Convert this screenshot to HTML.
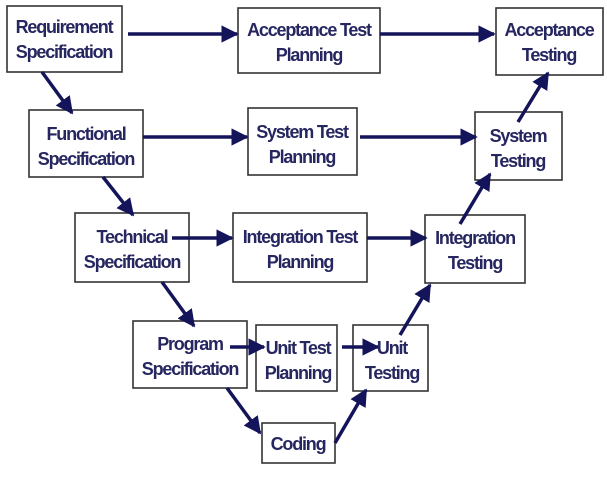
<!DOCTYPE html>
<html><head><style>
html,body{margin:0;padding:0;background:#fff;}
svg text{font-family:"Liberation Sans",Arial,sans-serif;font-size:18px;fill:#262660;font-weight:bold;letter-spacing:-1.2px;}
</style></head><body>
<svg width="607" height="474" viewBox="0 0 607 474" xmlns="http://www.w3.org/2000/svg">
<defs>
<marker id="a" viewBox="0 0 10 10" refX="9" refY="5" markerWidth="5" markerHeight="5" orient="auto" markerUnits="strokeWidth">
<path d="M0,0 L10,5 L0,10 z" fill="#14145a"/>
</marker>
</defs>
<g fill="#fff" stroke="#333" stroke-width="1.6">
<rect x="7" y="6" width="115" height="66"/>
<rect x="238" y="8" width="142" height="65"/>
<rect x="496" y="8" width="107" height="67"/>
<rect x="29" y="110" width="114" height="67"/>
<rect x="248" y="108" width="109" height="67"/>
<rect x="475" y="112" width="87" height="68"/>
<rect x="75" y="213" width="114" height="69"/>
<rect x="233" y="213" width="134" height="69"/>
<rect x="425" y="215" width="100" height="68"/>
<rect x="133" y="321" width="114" height="67"/>
<rect x="256" y="325" width="81" height="66"/>
<rect x="353" y="325" width="75" height="66"/>
<rect x="262" y="423" width="73" height="40"/>
</g>
<g stroke="#14145a" stroke-width="3.5" fill="none" marker-end="url(#a)">
<line x1="128" y1="34" x2="237" y2="34"/>
<line x1="380" y1="34" x2="494" y2="34"/>
<line x1="42" y1="72" x2="72" y2="113"/>
<line x1="143" y1="137" x2="247" y2="137"/>
<line x1="360" y1="137" x2="476" y2="137"/>
<line x1="103" y1="177" x2="133" y2="215"/>
<line x1="172" y1="238" x2="232" y2="238"/>
<line x1="367" y1="238" x2="426" y2="238"/>
<line x1="162" y1="282" x2="194" y2="326"/>
<line x1="230" y1="347" x2="264" y2="347"/>
<line x1="342" y1="347" x2="378" y2="347"/>
<line x1="227" y1="388" x2="260" y2="433"/>
<line x1="335" y1="443" x2="366" y2="390"/>
<line x1="400" y1="335" x2="430" y2="285"/>
<line x1="460" y1="224" x2="490" y2="174"/>
<line x1="518" y1="122" x2="548" y2="73"/>
</g>
<g text-anchor="middle">
<text x="64" y="33">Requirement</text><text x="64" y="58">Specification</text>
<text x="309" y="36">Acceptance Test</text><text x="309" y="61">Planning</text>
<text x="549" y="36">Acceptance</text><text x="549" y="61">Testing</text>
<text x="86" y="140">Functional</text><text x="86" y="165">Specification</text>
<text x="302" y="138">System Test</text><text x="302" y="163">Planning</text>
<text x="518" y="142">System</text><text x="518" y="167">Testing</text>
<text x="132" y="243">Technical</text><text x="132" y="268">Specification</text>
<text x="300" y="243">Integration Test</text><text x="300" y="268">Planning</text>
<text x="475" y="244">Integration</text><text x="475" y="269">Testing</text>
<text x="190" y="350">Program</text><text x="190" y="375">Specification</text>
<text x="298" y="354">Unit Test</text><text x="298" y="379">Planning</text>
<text x="392" y="354">Unit</text><text x="392" y="379">Testing</text>
<text x="298" y="450">Coding</text>
</g>
</svg>
</body></html>
